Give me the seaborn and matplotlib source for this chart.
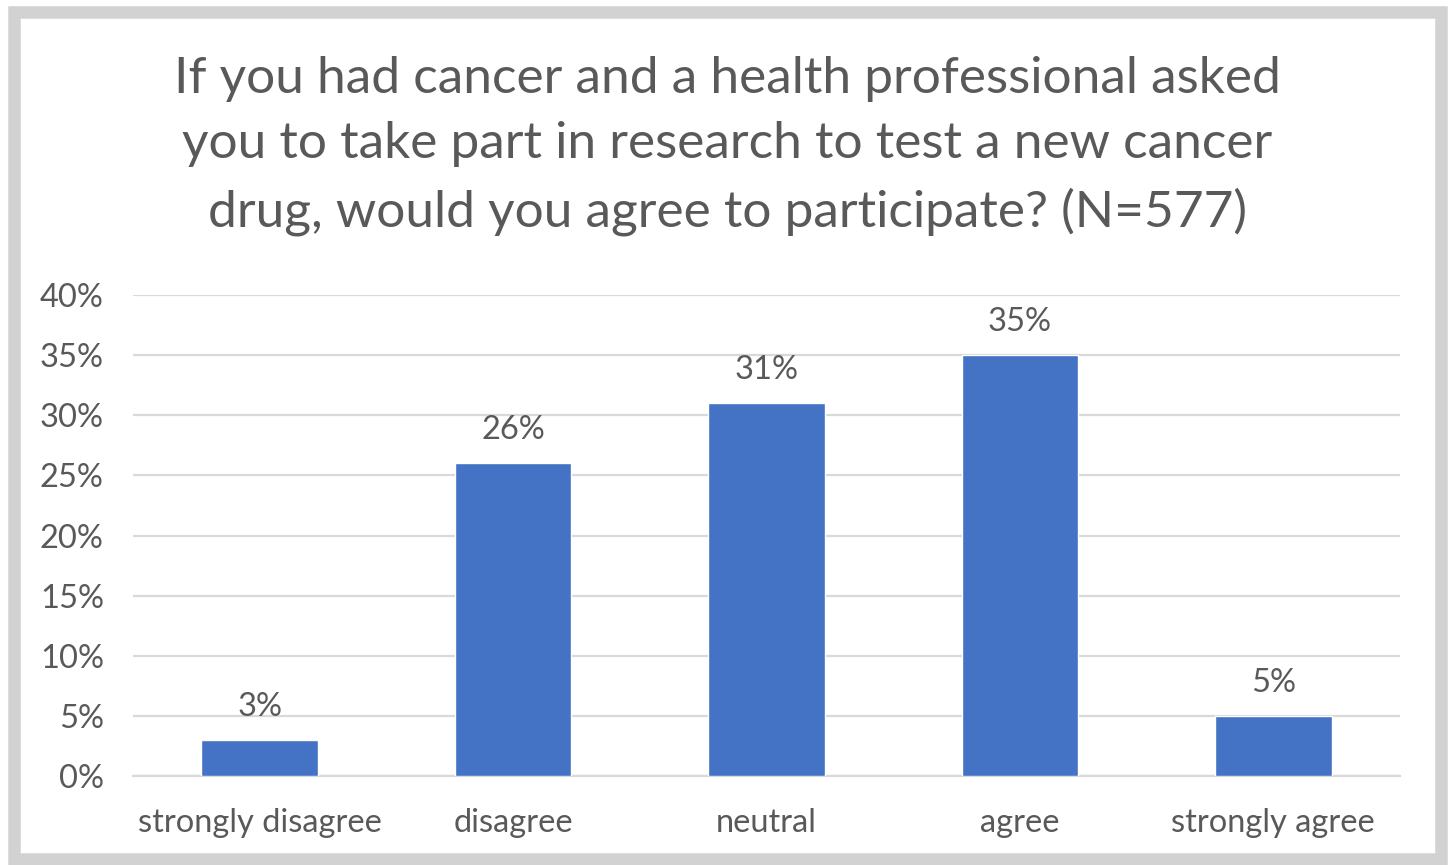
import matplotlib
matplotlib.use("Agg")
import matplotlib.pyplot as plt
import matplotlib.patches as mpatches
import seaborn as sns
import pandas as pd

categories = ["strongly disagree", "disagree", "neutral", "agree", "strongly agree"]
percentages = [3, 26, 31, 35, 5]
y_ticks = [0, 5, 10, 15, 20, 25, 30, 35, 40]
title = ("If you had cancer and a health professional asked\n"
         "you to take part in research to test a new cancer\n"
         "drug, would you agree to participate? (N=577)")

sns.set_theme(style="white")
plt.rcParams["font.family"] = ["Lato", "DejaVu Sans"]

TEXT = "#595959"
BAR = "#4472C4"
GRID = "#D9D9D9"

df = pd.DataFrame({"response": categories, "pct": percentages})

W, H = 1455, 865
fig = plt.figure(figsize=(W / 100, H / 100), dpi=100)
fig.patch.set_facecolor("white")

# light grey frame around the chart area
frame = mpatches.Rectangle((14 / W, 6 / H), 1 - 28 / W, 1 - 18 / H,
                           transform=fig.transFigure, fill=False,
                           edgecolor="#D2D2D2", linewidth=9)
fig.patches.append(frame)

ax = fig.add_axes([133 / W, (H - 776) / H, (1400 - 133) / W, (776 - 295) / H])
sns.barplot(data=df, x="response", y="pct", color=BAR, width=0.46,
            saturation=1, ax=ax, zorder=3)

ax.set_ylim(0, 40)
ax.set_xlim(-0.5, 4.5)
ax.set_yticks(y_ticks)
ax.set_yticklabels([f"{v}%" for v in y_ticks])
ax.yaxis.grid(True, color=GRID, linewidth=1.6, zorder=0)
ax.xaxis.grid(False)
for s in ["top", "right", "left"]:
    ax.spines[s].set_visible(False)
ax.spines["bottom"].set_color(GRID)
ax.spines["bottom"].set_linewidth(1.6)
ax.spines["bottom"].set_zorder(1)
ax.tick_params(axis="both", length=0, labelsize=23.5, colors=TEXT)
ax.tick_params(axis="y", pad=21)
ax.tick_params(axis="x", pad=23)
ax.set_xlabel("")
ax.set_ylabel("")

for i, v in enumerate(percentages):
    ax.annotate(f"{v}%", (i, v), xytext=(0, 13), textcoords="offset points",
                ha="center", va="bottom", fontsize=23.5, color=TEXT)

fig.text(0.5, (H - 146) / H, title, ha="center", va="center",
         fontsize=37, color=TEXT, linespacing=1.52)

fig.savefig("out.png", dpi=100)
